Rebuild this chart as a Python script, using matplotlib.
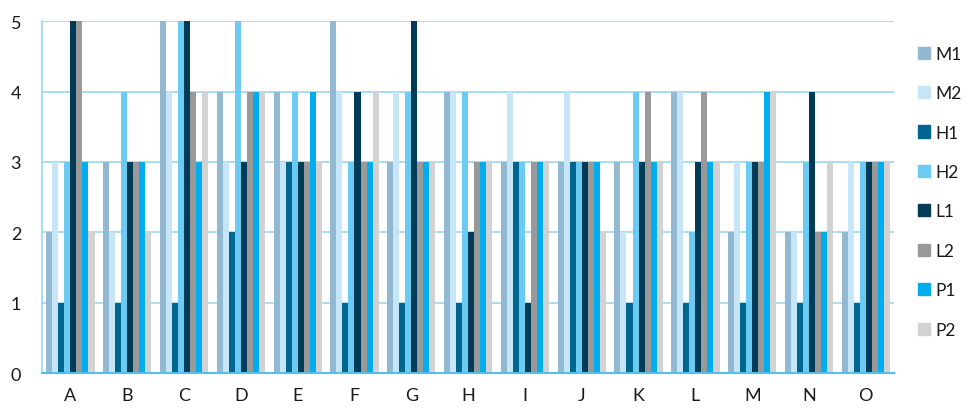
import numpy as np
import matplotlib
matplotlib.use('Agg')
import matplotlib.pyplot as plt
from matplotlib.patches import Patch

plt.rcParams['font.family'] = ['Lato', 'DejaVu Sans']

categories = ['A', 'B', 'C', 'D', 'E', 'F', 'G', 'H', 'I', 'J', 'K', 'L', 'M', 'N', 'O']
series_names = ['M1', 'M2', 'H1', 'H2', 'L1', 'L2', 'P1', 'P2']

m1 = [2, 3, 5, 4, 4, 5, 3, 4, 3, 3, 3, 4, 2, 2, 2]
m2 = [3, 2, 4, 3, 3, 4, 4, 4, 4, 4, 2, 4, 3, 2, 3]
h1 = [1, 1, 1, 2, 3, 1, 1, 1, 3, 3, 1, 1, 1, 1, 1]
h2 = [3, 4, 5, 5, 4, 3, 4, 4, 3, 3, 4, 2, 3, 3, 3]
l1 = [5, 3, 5, 3, 3, 4, 5, 2, 1, 3, 3, 3, 3, 4, 3]
l2 = [5, 3, 4, 4, 3, 3, 3, 3, 3, 3, 4, 4, 3, 2, 3]
p1 = [3, 3, 3, 4, 4, 3, 3, 3, 3, 3, 3, 3, 4, 2, 3]
p2 = [2, 2, 4, 4, 3, 4, 3, 3, 3, 2, 3, 3, 4, 3, 3]

colors = ['#93b9d2', '#c6e5f7', '#00668f', '#6ccbf2',
          '#003c57', '#999999', '#00aeef', '#d2d2d2']

fig = plt.figure(figsize=(9.74, 4.10), dpi=100)
ax = fig.add_axes([0.0431, 0.0878, 0.875, 0.858])

x = np.arange(len(categories))
n = len(series_names)
group_w = 0.85
bw = group_w / n
all_series = [m1, m2, h1, h2, l1, l2, p1, p2]
for i, (vals, name, col) in enumerate(zip(all_series, series_names, colors)):
    offs = -group_w / 2 + bw * (i + 0.5)
    ax.bar(x + offs, vals, width=bw, color=col, label=name, linewidth=0)

ax.set_xlim(-0.5, 14.5)
ax.set_ylim(0, 5)
ax.set_xticks(x)
ax.set_xticklabels(categories)
ax.set_yticks(range(6))
ax.tick_params(length=0, labelsize=13, colors='#1a1a1a')
ax.tick_params(axis='y', pad=15)
ax.tick_params(axis='x', pad=10)

ax.set_axisbelow(True)
ax.grid(axis='y', color='#9ad9ef', linewidth=1.2)
for s in ['top', 'right']:
    ax.spines[s].set_visible(False)
ax.spines['left'].set_color('#9ad9ef')
ax.spines['left'].set_linewidth(1.2)
ax.spines['bottom'].set_color('#4fc1ea')
ax.spines['bottom'].set_linewidth(1.5)

handles = [Patch(color=c, label=s) for s, c in zip(series_names, colors)]
leg = fig.legend(handles=handles, loc='center left', bbox_to_anchor=(0.935, 0.53),
                 frameon=False, fontsize=12.5, labelspacing=1.35,
                 handlelength=0.7, handleheight=0.7, handletextpad=0.35,
                 borderaxespad=0)
for t in leg.get_texts():
    t.set_color('#1a1a1a')

fig.savefig('out.png', dpi=100)
